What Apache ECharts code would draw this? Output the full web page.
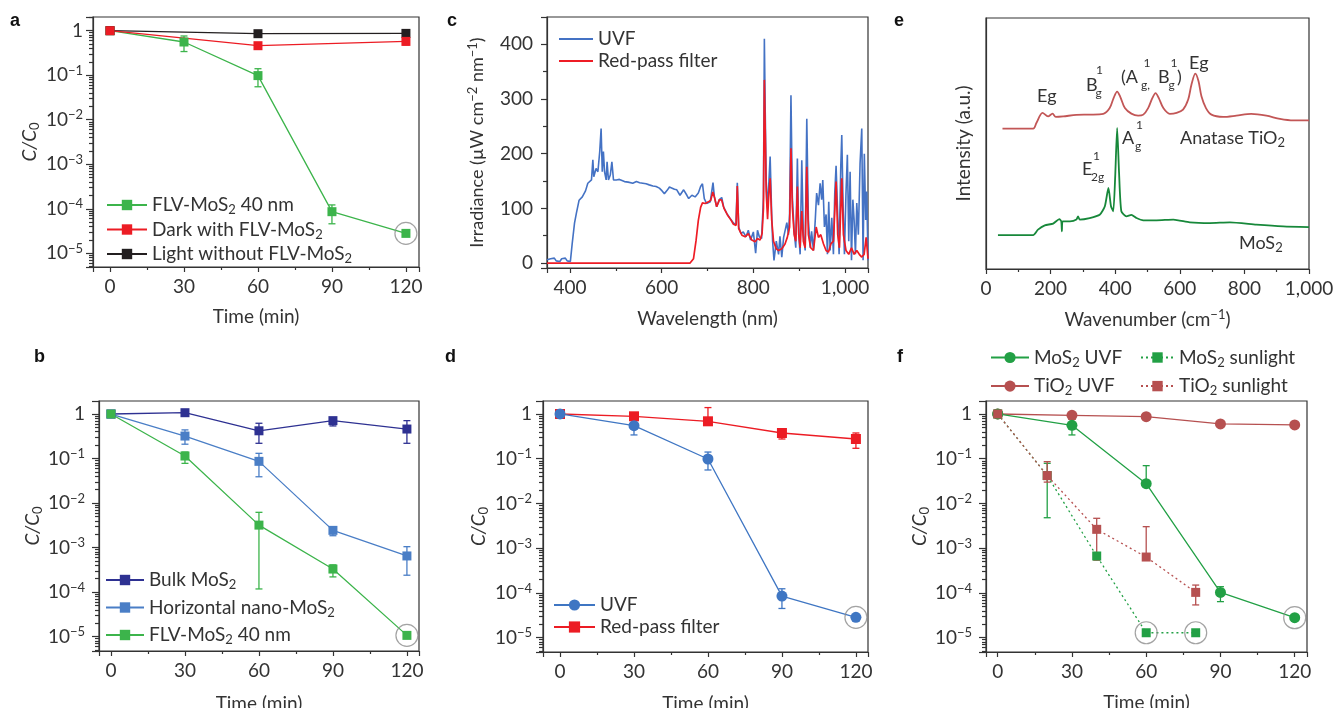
<!DOCTYPE html>
<html><head><meta charset="utf-8">
<script src="https://cdn.jsdelivr.net/npm/echarts@6/dist/echarts.min.js"></script>
<style>html,body{margin:0;padding:0;background:#fff}#c{width:1333px;height:708px}</style>
</head><body><div id="c"></div>
<script>
// ---------------- DATA ----------------
// panel a
const aTime = [0, 30, 60, 90, 120];
const aFlv = [1, 0.557, 0.098, 8.6e-5, 2.8e-5];
const aFlvLo = [null, 0.34, 0.055, 4.6e-5, null];
const aFlvHi = [null, 0.76, 0.14, 1.22e-4, null];
const aDarkTime = [0, 60, 120];
const aDark = [1, 0.46, 0.575];
const aDarkLo = [null, null, 0.48];
const aDarkHi = [null, null, 0.66];
const aLightTime = [0, 60, 120];
const aLight = [1, 0.856, 0.87];
// panel b
const bTime = [0, 30, 60, 90, 120];
const bBulk = [1, 1.07, 0.42, 0.71, 0.46];
const bBulkLo = [null, 0.92, 0.22, 0.54, 0.22];
const bBulkHi = [null, 1.19, 0.62, 0.81, 0.71];
const bHor = [1, 0.32, 0.0865, 0.00244, 6.5e-4];
const bHorLo = [null, 0.21, 0.039, 0.00185, 2.4e-4];
const bHorHi = [null, 0.44, 0.131, 0.0029, 1.05e-3];
const bFlv = [1, 0.114, 3.2e-3, 3.3e-4, 1.07e-5];
const bFlvLo = [null, 0.078, 1.18e-4, 2.2e-4, null];
const bFlvHi = [null, 0.14, 6.2e-3, 4.1e-4, null];
// panel d
const dTime = [0, 30, 60, 90, 120];
const dUvf = [1, 0.548, 0.0986, 8.5e-5, 2.85e-5];
const dUvfLo = [null, 0.34, 0.056, 4.5e-5, null];
const dUvfHi = [null, 0.76, 0.141, 1.24e-4, null];
const dRed = [1, 0.887, 0.686, 0.376, 0.276];
const dRedLo = [null, 0.76, 0.57, 0.276, 0.171];
const dRedHi = [null, 1.0, 1.39, 0.454, 0.376];
// panel f
const fTime = [0, 30, 60, 90, 120];
const fMosUvf = [1, 0.558, 0.0277, 1.03e-4, 2.8e-5];
const fMosUvfLo = [null, 0.34, 0.0277, 6.4e-5, null];
const fMosUvfHi = [null, 0.76, 0.07, 1.38e-4, null];
const fTioUvf = [1, 0.933, 0.872, 0.598, 0.568];
const fSunTime = [0, 20, 40, 60, 80];
const fMosSun = [1, 0.042, 6.7e-4, 1.29e-5, 1.29e-5];
const fMosSunLo = [null, 4.8e-3, null, null, null];
const fMosSunHi = [null, 0.079, null, null, null];
const fTioSun = [1, 0.042, 2.64e-3, 6.35e-4, 1.03e-4];
const fTioSunLo = [null, 0.03, 5.4e-4, 6.35e-4, 5.4e-5];
const fTioSunHi = [null, 0.086, 4.66e-3, 3.03e-3, 1.5e-4];
// panel c (irradiance spectra)
const cUvfNm = [350,354,358,362,366,370,374,378,382,386,390,394,398,401,405,410,414,420,427,434,439,443,447,450,452,457,461,465,468,470.5,473,475.5,479,481,484,488,491.5,495,501,508,519,527,537,545,552,559,566,573,581,588,595,601,606,612,617,623,628,633,640,648,655,659,666,673,680,685,689,693,698,706,712,715,720,726,731,735,742,749,757,762,765,768,773,778,784,789,794,800,805,809,813,818,819,822,824,826,828,831,834,836.6,840,842,845,850,855,858,862,866,869,873,876.5,879,882,885,889,892.5,896,899,902,905.6,909,913,916.5,920,924,927,931,935,938,942,945.6,949,951.4,955,958.6,961.5,964.4,967.4,971,974.6,977.5,980.4,983.3,987,990.6,992.8,995.7,998.6,1002,1005,1008,1011,1014,1017,1019.7,1022.6,1025.5,1029,1032.7,1036.4,1039.3,1042,1045,1047.3,1050];
const cUvfVal = [6,4,8,5,9,4,7,3,8,5,9,4,6,3,36,73,91,115,121,132,146,149,152,189,158,173,167,204,246,167,204,167,152,185,152,161,185,152,152,153,149,148,146,149,147,146,145,143,141,140,137,132,127,133,139,137,135,134,124,134,124,118,124,121,128,140,145,118,109,112,147,121,103,116,120,103,91,82,73,70,147,66,54,57,48,60,42,57,18,60,48,45,45,120,410,271,150,100,150,195,89,40,5,40,16,49,11,47,50,74,52,89,307,121,58,28,191,52,16,188,52,23,264,79,28,58,23,79,128,106,146,116,152,66,89,16,112,23,83,16,128,178,103,16,176,234,103,16,128,198,40,167,5,116,79,16,110,52,182,246,5,200,79,131,5];
const cRedNm = [350,400,500,600,662,666,669.5,675,680,685,689,695,702,707,711.6,715,720,726,731,736,743.5,751,756.6,762.4,765,768,775,782,789,796.6,803.8,809,814.7,819,822,824,826,828,831,834,836.6,840,844,850,855,862,869,874,879,882,885,889,892.5,896,899,902,905.6,909,913,916.5,920,925,931,937,942,947,953,958.6,963.7,969,974.6,980.4,984,987.7,992.8,996.4,1002,1008,1014,1019.7,1025.5,1031,1036.4,1041.5,1046,1050];
const cRedVal = [0,0,0,0,0,2,8,41,78,102,110,109,112,115,130,121,103,116,115,100,88,79,71,69,141,63,51,48,54,42,39,45,42,54,100,335,237,130,80,130,155,79,40,26,23,26,35,47,66,210,103,52,40,140,52,28,95,40,28,176,52,28,23,66,47,52,35,23,20,35,40,149,52,28,155,52,23,16,28,16,23,16,11,16,47,8];
// panel e (Raman spectra, arbitrary units)
const eTioCm = [51,146,156,175,192,206,216,239,280,321,363,383,395,406,416,430,450,471,487,502,515,525,535,549,569,590,610,626,636,648,658,667,681,698,734,775,821,868,910,952,1000];
const eTioVal = [55.9,55.9,58.2,62.2,60.8,61.9,60.6,60.8,61.4,61.5,61.8,64.1,68.1,70.7,68.5,64.1,61.9,61.1,61.5,64.1,68.1,70.1,68.1,64.1,61.8,62.2,63.5,67.5,73.4,77.8,74.8,68.8,64.1,61.5,60.6,61.1,61.8,61.1,59.8,59.2,59.2];
const eMosCm = [37,146,161,182,208,227,233,235,237,260,280,285,290,321,352,368,379,387,394,400,406,412,419,435,450,466,487,528,580,631,693,755,837,920,1000];
const eMosVal = [13.5,13.5,15.7,17.4,18.1,19.9,19.0,15.0,19.0,19.0,19.7,21.0,19.7,20.3,21.6,25.0,32.3,25.0,23.0,36.9,56.2,38.2,23.0,21.0,21.6,20.3,19.4,19.4,19.7,18.6,18.3,18.6,17.7,17.0,16.7];

// ---------------- STYLE HELPERS ----------------
const FONT = 'Lato, "Open Sans", sans-serif';
const FS = 19;
const TXT = '#333';
const AX = {color: '#333', width: 1.2};
const SUB = {fontSize: 13, fontFamily: FONT, color: TXT, padding: [10, 0, 0, 0], lineHeight: 11};
const SUP = {fontSize: 13, fontFamily: FONT, color: TXT, padding: [0, 0, 9, 0], lineHeight: 13};
const zip = (xs, ys) => xs.map((x, i) => [x, ys[i]]);

function logLabel(v) {
  const e = Math.log10(v), r = Math.round(e);
  if (Math.abs(e - r) > 1e-6) return '';
  if (r === 0) return '1';
  return '10{sup|\u2212' + (-r) + '}';
}
function timeAxis(gi, min, max, nameGap) {
  return {type: 'value', gridIndex: gi, min, max, splitNumber: 4,
    axisLine: {show: true, onZero: false, lineStyle: AX},
    axisTick: {show: true, length: 5, lineStyle: AX},
    minorTick: {show: true, splitNumber: 2, length: 3, lineStyle: AX},
    splitLine: {show: false}, minorSplitLine: {show: false},
    axisLabel: {formatter: v => (Math.abs(v % 30) < 1e-9 ? String(v) : ''), margin: 10, fontSize: FS, color: TXT, fontFamily: FONT},
    name: 'Time (min)', nameLocation: 'middle', nameGap,
    nameTextStyle: {fontSize: FS, color: TXT, fontFamily: FONT}};
}
function logAxis(gi, min, max, margin, nameGap) {
  return {type: 'log', logBase: 10, gridIndex: gi, min, max,
    axisLine: {show: true, onZero: false, lineStyle: AX},
    axisTick: {show: true, length: 7, lineStyle: AX},
    minorTick: {show: true, splitNumber: 9, length: 4, lineStyle: AX},
    splitLine: {show: false}, minorSplitLine: {show: false},
    axisLabel: {formatter: logLabel, margin, fontSize: FS, color: TXT, fontFamily: FONT, rich: {sup: SUP}},
    name: '{i|C/C}{s|0}', nameLocation: 'middle', nameGap, nameRotate: 90,
    nameTextStyle: {fontSize: FS, color: TXT, fontFamily: FONT,
      rich: {i: {fontStyle: 'italic', fontSize: FS, fontFamily: FONT, color: TXT}, s: SUB}}};
}
function line(name, gi, xs, ys, color, symbol, size, dash) {
  return {type: 'line', name, xAxisIndex: gi, yAxisIndex: gi, data: zip(xs, ys),
    symbol, symbolSize: size, showSymbol: true, z: 4,
    itemStyle: {color}, lineStyle: {color, width: 1.3, type: dash || 'solid'},
    emphasis: {disabled: true}};
}
function errBars(gi, xs, lo, hi, color) {
  const data = [];
  xs.forEach((x, i) => { if (lo[i] != null && hi[i] != null) data.push([x, lo[i], hi[i]]); });
  return {type: 'custom', xAxisIndex: gi, yAxisIndex: gi, data, silent: true, z: 3,
    encode: {x: 0, y: [1, 2]},
    renderItem(params, api) {
      const x = api.value(0);
      const a = api.coord([x, api.value(1)]), b = api.coord([x, api.value(2)]);
      const w = 3.5, st = {stroke: color, lineWidth: 1.3};
      return {type: 'group', children: [
        {type: 'line', shape: {x1: a[0], y1: a[1], x2: b[0], y2: b[1]}, style: st},
        {type: 'line', shape: {x1: a[0] - w, y1: a[1], x2: a[0] + w, y2: a[1]}, style: st},
        {type: 'line', shape: {x1: b[0] - w, y1: b[1], x2: b[0] + w, y2: b[1]}, style: st}]};
    }};
}
function ring(gi, pts) {
  return {type: 'scatter', xAxisIndex: gi, yAxisIndex: gi, data: pts, symbol: 'circle', symbolSize: 22,
    silent: true, z: 5, itemStyle: {color: 'rgba(0,0,0,0)', borderColor: '#8c8c8c', borderWidth: 1.2}};
}
const LEGEND_TEXT = {
  a_flv: 'FLV-MoS{s|2} 40 nm', a_dark: 'Dark with FLV-MoS{s|2}', a_light: 'Light without FLV-MoS{s|2}',
  b_bulk: 'Bulk MoS{s|2}', b_hor: 'Horizontal nano-MoS{s|2}', b_flv: 'FLV-MoS{s|2} 40 nm',
  c_uvf: 'UVF', c_red: 'Red-pass filter', d_uvf: 'UVF', d_red: 'Red-pass filter',
  f_mu: 'MoS{s|2} UVF', f_tu: 'TiO{s|2} UVF', f_ms: 'MoS{s|2} sunlight', f_ts: 'TiO{s|2} sunlight'
};
function legend(names, left, top, itemWidth, itemHeight, itemGap, extra) {
  return Object.assign({data: names, left, top, orient: 'vertical', itemWidth, itemHeight, itemGap, selectedMode: false,
    formatter: n => LEGEND_TEXT[n], padding: 0,
    textStyle: {fontSize: FS, color: TXT, fontFamily: FONT, lineHeight: 21, rich: {s: SUB}}}, extra || {});
}
function txt(x, y, text, size, extra) {
  return Object.assign({type: 'text', x, y, silent: true,
    style: {text, fontSize: size, fontFamily: FONT, fill: TXT, verticalAlign: 'middle', align: 'left'}}, extra || {});
}
function letter(x, y, t) {
  return {type: 'text', x, y, silent: true,
    style: {text: t, fontSize: 18, fontWeight: 'bold', fontFamily: '"Liberation Sans", Arial, sans-serif', fill: '#111', verticalAlign: 'middle'}};
}

// ---------------- COLORS ----------------
const GREEN = '#3cb44b', RED = '#ec1c24', BLACK = '#231f20';
const NAVY = '#2e3192', MBLUE = '#4a7ec6', DBLUE = '#3f76c3';
const FGREEN = '#22a045', FBROWN = '#b65050';
const CBLUE = '#4472c4', CRED = '#ee1c25';
const ETIO = '#c25656', EMOS = '#17883a';

// ---------------- OPTION ----------------
const gridBase = {show: true, borderColor: '#333', borderWidth: 1.2, backgroundColor: 'transparent', containLabel: false, outerBoundsMode: 'none'};
const grids = [
  Object.assign({left: 93, top: 17, width: 326, height: 250}, gridBase),   // a
  Object.assign({left: 547, top: 17, width: 321, height: 251}, gridBase),  // c
  Object.assign({left: 986, top: 18, width: 323, height: 251}, gridBase),  // e
  Object.assign({left: 99, top: 401, width: 320, height: 250}, gridBase),  // b
  Object.assign({left: 543, top: 401, width: 325, height: 251}, gridBase), // d
  Object.assign({left: 986, top: 401, width: 321, height: 251}, gridBase)  // f
];

const xAxes = [
  timeAxis(0, -6.9, 125.3, 40),
  {type: 'value', gridIndex: 1, min: 350, max: 1050, splitNumber: 4,
    axisLine: {show: true, onZero: false, lineStyle: AX}, axisTick: {show: true, length: 5, lineStyle: AX},
    minorTick: {show: true, splitNumber: 2, length: 3, lineStyle: AX}, splitLine: {show: false},
    axisLabel: {formatter: v => (v % 200 === 0 ? (v === 1000 ? '1,000' : String(v)) : ''), margin: 10, fontSize: FS, color: TXT, fontFamily: FONT},
    name: 'Wavelength (nm)', nameLocation: 'middle', nameGap: 41, nameTextStyle: {fontSize: FS, color: TXT, fontFamily: FONT}},
  {type: 'value', gridIndex: 2, min: 0, max: 1000, interval: 200,
    axisLine: {show: true, onZero: false, lineStyle: AX}, axisTick: {show: true, length: 5, lineStyle: AX},
    minorTick: {show: true, splitNumber: 2, length: 3, lineStyle: AX}, splitLine: {show: false},
    axisLabel: {formatter: v => (v === 1000 ? '1,000' : String(v)), margin: 10, fontSize: FS, color: TXT, fontFamily: FONT},
    name: 'Wavenumber (cm{p|\u22121})', nameLocation: 'middle', nameGap: 41,
    nameTextStyle: {fontSize: FS, color: TXT, fontFamily: FONT, rich: {p: SUP}}},
  timeAxis(3, -4.86, 124.9, 43),
  timeAxis(4, -6.9, 124.9, 42.5),
  timeAxis(5, -4.73, 124.97, 41)
];
const yAxes = [
  logAxis(0, 4.92e-6, 2.03, 10, 54),
  {type: 'value', gridIndex: 1, min: -9, max: 450, splitNumber: 4,
    axisLine: {show: true, onZero: false, lineStyle: AX}, axisTick: {show: true, length: 6, lineStyle: AX},
    minorTick: {show: true, splitNumber: 2, length: 4, lineStyle: AX}, splitLine: {show: false},
    axisLabel: {formatter: v => (v % 100 === 0 ? String(v) : ''), margin: 14, fontSize: FS, color: TXT, fontFamily: FONT},
    name: 'Irradiance (\u00b5W cm{p|\u22122} nm{p|\u22121})', nameLocation: 'middle', nameGap: 61, nameRotate: 90,
    nameTextStyle: {fontSize: 18, color: TXT, fontFamily: FONT, rich: {p: SUP}}},
  {type: 'value', gridIndex: 2, min: 0, max: 100,
    axisLine: {show: true, onZero: false, lineStyle: AX}, axisTick: {show: false}, axisLabel: {show: false}, splitLine: {show: false},
    name: 'Intensity (a.u.)', nameLocation: 'middle', nameGap: 13, nameRotate: 90,
    nameTextStyle: {fontSize: FS, color: TXT, fontFamily: FONT}},
  logAxis(3, 4.77e-6, 1.96, 14, 56),
  logAxis(4, 4.79e-6, 1.95, 11, 55),
  logAxis(5, 4.79e-6, 1.95, 14, 57)
];

const series = [
  // a
  errBars(0, aTime, aFlvLo, aFlvHi, GREEN),
  errBars(0, aDarkTime, aDarkLo, aDarkHi, RED),
  line('a_flv', 0, aTime, aFlv, GREEN, 'rect', 9),
  line('a_light', 0, aLightTime, aLight, BLACK, 'rect', 9),
  line('a_dark', 0, aDarkTime, aDark, RED, 'rect', 9),
  ring(0, [[aTime[4], aFlv[4]]]),
  // b
  errBars(3, bTime, bBulkLo, bBulkHi, NAVY),
  errBars(3, bTime, bHorLo, bHorHi, MBLUE),
  errBars(3, bTime, bFlvLo, bFlvHi, GREEN),
  line('b_bulk', 3, bTime, bBulk, NAVY, 'rect', 9),
  line('b_hor', 3, bTime, bHor, MBLUE, 'rect', 9),
  line('b_flv', 3, bTime, bFlv, GREEN, 'rect', 9),
  ring(3, [[bTime[4], bFlv[4]]]),
  // c
  {type: 'line', name: 'c_uvf', xAxisIndex: 1, yAxisIndex: 1, data: zip(cUvfNm, cUvfVal), symbol: 'none', showSymbol: false,
    itemStyle: {color: CBLUE}, lineStyle: {color: CBLUE, width: 1.6}, z: 3},
  {type: 'line', name: 'c_red', xAxisIndex: 1, yAxisIndex: 1, data: zip(cRedNm, cRedVal), symbol: 'none', showSymbol: false,
    itemStyle: {color: CRED}, lineStyle: {color: CRED, width: 1.7}, z: 4},
  // d
  errBars(4, dTime, dUvfLo, dUvfHi, DBLUE),
  errBars(4, dTime, dRedLo, dRedHi, RED),
  line('d_red', 4, dTime, dRed, RED, 'rect', 10),
  line('d_uvf', 4, dTime, dUvf, DBLUE, 'circle', 11),
  ring(4, [[dTime[4], dUvf[4]]]),
  // e
  {type: 'line', name: 'e_tio', xAxisIndex: 2, yAxisIndex: 2, data: zip(eTioCm, eTioVal), symbol: 'none', smooth: 0.3,
    lineStyle: {color: ETIO, width: 1.8}, itemStyle: {color: ETIO}},
  {type: 'line', name: 'e_mos', xAxisIndex: 2, yAxisIndex: 2, data: zip(eMosCm, eMosVal), symbol: 'none', smooth: 0.2,
    lineStyle: {color: EMOS, width: 1.8}, itemStyle: {color: EMOS}},
  // f
  errBars(5, fTime, fMosUvfLo, fMosUvfHi, FGREEN),
  errBars(5, fSunTime, fMosSunLo, fMosSunHi, FGREEN),
  errBars(5, fSunTime, fTioSunLo, fTioSunHi, FBROWN),
  line('f_tu', 5, fTime, fTioUvf, FBROWN, 'circle', 11),
  line('f_mu', 5, fTime, fMosUvf, FGREEN, 'circle', 11),
  line('f_ms', 5, fSunTime, fMosSun, FGREEN, 'rect', 9, [2, 3]),
  line('f_ts', 5, fSunTime, fTioSun, FBROWN, 'rect', 9, [2, 3]),
  ring(5, [[fTime[4], fMosUvf[4]], [fSunTime[3], fMosSun[3]], [fSunTime[4], fMosSun[4]]])
];

const graphic = [
  letter(10, 21, 'a'), letter(447, 21, 'c'), letter(894, 21, 'e'),
  letter(34, 357, 'b'), letter(445, 357, 'd'), letter(897, 357, 'f'),
  // panel e annotations
  txt(1037, 96.5, 'Eg', 18),
  txt(1086, 85.5, 'B', 18), txt(1096, 70, '1', 12), txt(1095.5, 93, 'g', 12),
  txt(1121, 77.5, '(A', 18), txt(1143.5, 63, '1', 12), txt(1141, 85, 'g,', 12),
  txt(1158, 77.5, 'B', 18), txt(1170.5, 63, '1', 12), txt(1168.5, 85, 'g', 12),
  txt(1177, 77.5, ')', 18),
  txt(1189, 63, 'Eg', 18),
  txt(1122, 138, 'A', 18), txt(1136, 125, '1', 12), txt(1135, 146.5, 'g', 12),
  txt(1082, 169, 'E', 18), txt(1093, 156, '1', 12), txt(1091, 177.5, '2g', 12),
  {type: 'text', x: 1180, y: 138, silent: true,
    style: {text: 'Anatase TiO{s|2}', fontSize: 18, fontFamily: FONT, fill: TXT, verticalAlign: 'middle', rich: {s: SUB}}},
  {type: 'text', x: 1239, y: 243, silent: true,
    style: {text: 'MoS{s|2}', fontSize: 18, fontFamily: FONT, fill: TXT, verticalAlign: 'middle', rich: {s: SUB}}}
];

const option = {
  animation: false,
  backgroundColor: '#fff',
  textStyle: {fontFamily: FONT},
  grid: grids, xAxis: xAxes, yAxis: yAxes, series,
  legend: [
    legend(['a_flv', 'a_dark', 'a_light'], 106, 193.5, 40, 13, 1.5),
    legend(['b_bulk', 'b_hor', 'b_flv'], 105, 568.5, 38, 13, 4.5),
    legend(['c_uvf', 'c_red'], 558, 28.5, 34, 13, 1, {itemStyle: {opacity: 0}}),
    legend(['d_uvf', 'd_red'], 553, 594.5, 41, 14, 1),
    legend(['f_mu', 'f_tu'], 990, 346, 38, 14, 5.6),
    legend(['f_ms', 'f_ts'], 1140, 346, 33, 13, 5.6)
  ],
  graphic
};
const chart = echarts.init(document.getElementById('c'), null, {renderer: 'canvas'});
chart.setOption(option);
</script>
</body></html>
